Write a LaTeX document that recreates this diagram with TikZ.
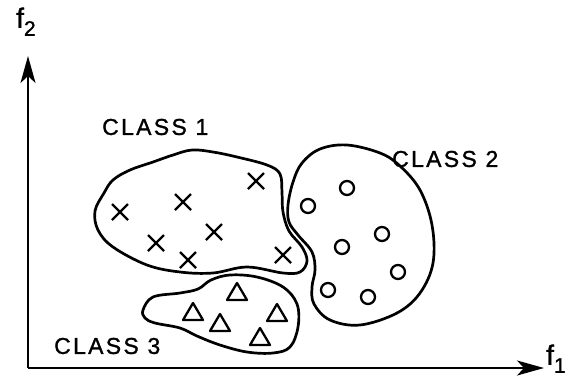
\documentclass[tikz,border=0pt]{standalone}
\usepackage{fontspec}
\setmainfont{Liberation Sans}[LetterSpace=10, FakeBold=1.2]
\usetikzlibrary{arrows.meta}
\tikzset{
  outline/.style={line width=2.7pt, line join=round},
  axis/.style={line width=2.2pt, -{Stealth[length=27pt,width=15pt,inset=7pt]}},
  symb/.style={line width=2.3pt},
  lbl/.style={font=\fontsize{23}{23}\selectfont, inner sep=0pt, anchor=west},
}
\begin{document}
\begin{tikzpicture}[x=1pt,y=-1pt]
\useasboundingbox (0,0) rectangle (569,381);
% axes
\coordinate (o) at (28,368);
\coordinate (ytip) at (28,56);
\coordinate (xtip) at (544,368);
\draw[axis] (o) -- (ytip);
\draw[axis] (o) -- (xtip);
\node[inner sep=0pt, anchor=south west, font=\fontsize{28}{28}\selectfont] (f2) at (16,36) {f\raisebox{-8pt}{\fontsize{21}{21}\selectfont 2}};
\node[inner sep=0pt, anchor=south west, font=\fontsize{28}{28}\selectfont] (f1) at (546,373) {f\raisebox{-8pt}{\fontsize{21}{21}\selectfont 1}};
% class 1
\draw[outline] plot[smooth cycle, tension=0.6] coordinates {
 (95,211) (104,193) (113,180) (130,170) (153,162) (173,155) (192,150)
 (213,152) (237,157) (267,165) (280,174) (282,193) (283,212) (289,231)
 (302,247) (307,261) (300,272) (283,273) (247,267) (213,273) (180,272)
 (147,265) (113,247) (98,230)};
% class 2
\draw[outline] plot[smooth cycle, tension=0.6] coordinates {
 (288,205) (293,182) (302,163) (320,149) (347,145) (380,153) (400,166)
 (420,190) (432,225) (433,263) (420,293) (397,313) (360,325) (330,320)
 (314,304) (312,287) (315,270) (312,252) (298,235) (289,222)};
% class 3
\draw[outline] plot[smooth cycle, tension=0.6] coordinates {
 (143,310) (153,297) (180,293) (198,289) (211,280) (230,275) (257,277)
 (283,287) (297,304) (298,327) (290,347) (273,353) (247,352) (220,345)
 (197,336) (180,328) (155,323) (145,318)};
% crosses
\foreach \x/\y in {120/212, 183/202, 256/181, 156/243, 214/232, 188/260, 283/255}
  \draw[symb] (\x-8,\y-8) -- (\x+8,\y+8) (\x-8,\y+8) -- (\x+8,\y-8);
% circles
\foreach \x/\y in {308/206, 347/188, 382/234, 342/247, 398/272, 328/290, 368/297}
  \draw[symb] (\x,\y) circle[radius=7];
% triangles
\foreach \x/\y in {237/292, 193/312, 220/323, 277/313, 260/337}
  \draw[symb, line join=round] (\x-10,\y+8) -- (\x+10,\y+8) -- (\x,\y-9) -- cycle;
% labels
\node[lbl] (c1) at (102,127) {CLASS 1};
\node[lbl] (c2) at (392,159) {CLASS 2};
\node[lbl] (c3) at (54,346) {CLASS 3};
\end{tikzpicture}
\end{document}
